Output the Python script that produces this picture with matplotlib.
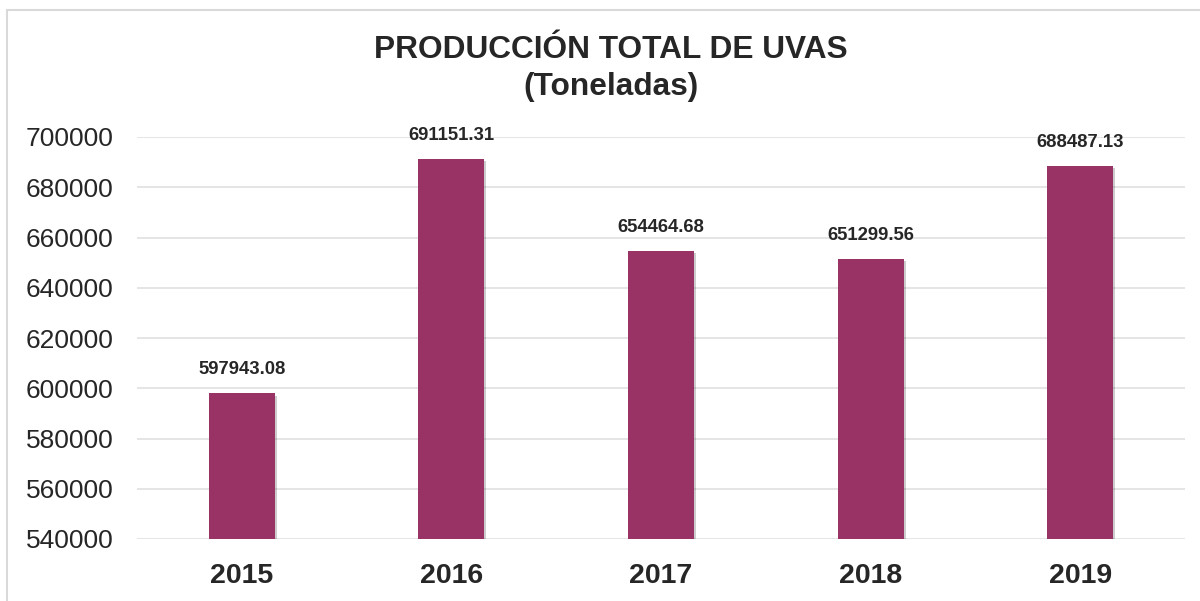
import matplotlib.pyplot as plt
import matplotlib.patheffects as pe
from matplotlib.patches import Rectangle

# datos
anios = ['2015', '2016', '2017', '2018', '2019']
produccion = [597943.08, 691151.31, 654464.68, 651299.56, 688487.13]

plt.rcParams['font.family'] = ['Liberation Sans', 'DejaVu Sans']

fig = plt.figure(figsize=(12, 6.01), dpi=100)
ax = fig.add_axes([137 / 1200, 62 / 601, 1048 / 1200, 402 / 601])

# marco del grafico
fig.patches.append(Rectangle((7 / 1200, -0.1), 1.2, (601 - 10) / 601 + 0.1,
                             transform=fig.transFigure, fill=False,
                             edgecolor='#d9d9d9', linewidth=1.5))

x = range(len(anios))
barras = ax.bar(x, produccion, width=0.315, color='#993366', zorder=3)
for b in barras:
    b.set_path_effects([pe.SimplePatchShadow(offset=(1.5, -1.5), alpha=0.2,
                                             shadow_rgbFace='#000000'), pe.Normal()])

for xi, v in zip(x, produccion):
    ax.annotate(f'{v:.2f}', (xi, v), xytext=(0, 11), textcoords='offset points',
                ha='center', va='bottom', fontsize=13.3, fontweight='bold',
                color='#262626', annotation_clip=False)

ax.set_ylim(540000, 700000)
ax.set_xlim(-0.5, len(anios) - 0.5)
ax.set_yticks(range(540000, 700001, 20000))
ax.set_xticks(list(x))
ax.set_xticklabels(anios, fontsize=20.5, fontweight='bold', color='#262626')
ax.tick_params(axis='y', labelsize=19, labelcolor='#262626', length=0, pad=17)
ax.tick_params(axis='x', length=0, pad=17)
ax.grid(axis='y', color='#e3e3e3', linewidth=1.3, zorder=0)
for s in ax.spines.values():
    s.set_visible(False)

fig.text(611 / 1200, 1 - 50 / 601, 'PRODUCCIÓN TOTAL DE UVAS', ha='center', va='center',
         fontsize=22.8, fontweight='bold', color='#262626')
fig.text(611 / 1200, 1 - 87 / 601, '(Toneladas)', ha='center', va='center',
         fontsize=22.8, fontweight='bold', color='#262626')

fig.savefig('out.png', dpi=100)
